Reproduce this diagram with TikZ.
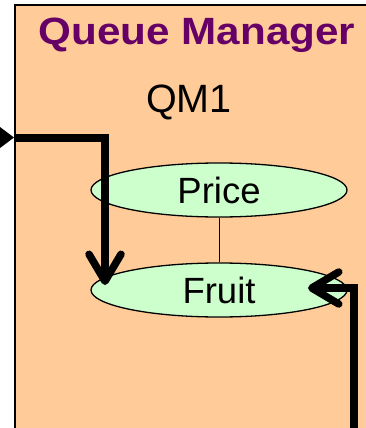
\documentclass[tikz,border=0pt]{standalone}
\usepackage{fontspec}
\setmainfont{Liberation Sans}
\usetikzlibrary{shapes.geometric,arrows.meta}
\definecolor{qmfill}{HTML}{FFCC99}
\definecolor{qgreen}{HTML}{CCFFCC}
\definecolor{qpurple}{HTML}{660066}
\begin{document}
\begin{tikzpicture}[x=1pt,y=-1pt,
  queue/.style={ellipse, draw, line width=1.3pt, fill=qgreen,
    minimum width=256pt, minimum height=54pt, inner sep=0pt,
    font=\fontsize{36.5}{37}\selectfont},
  flow/.style={line width=7.5pt,
    -{Straight Barb[length=27pt,width=32pt,round]}}]
\useasboundingbox (0,0) rectangle (366,428);
\clip (0,0) rectangle (366,428);
\fill[white] (0,0) rectangle (366,428);
% queue manager box, running off the right and bottom
\draw[fill=qmfill, line width=1.6pt] (15,5) rectangle (380,440);
\node[font=\bfseries\fontsize{38}{38}\selectfont, text=qpurple,
  anchor=base, xscale=1.11] (title) at (197,45) {Queue Manager};
\node[font=\fontsize{39.5}{40}\selectfont, anchor=base] (qm) at (189,112) {QM1};
% queues
\node[queue] (price) at (219,190) {Price};
\node[queue] (fruit) at (219,290) {Fruit};
\draw[line width=1pt] (price) -- (fruit);
% incoming channel on the left
\fill (0,127) -- (14,137.5) -- (0,148) -- cycle;
\coordinate (inL) at (14,138);
\coordinate (fruitL) at (105,285);
\draw[flow] (inL) -| (fruitL);
% incoming channel from below
\coordinate (inB) at (354,440);
\coordinate (fruitR) at (308,288);
\draw[flow] (inB) |- (fruitR);
\end{tikzpicture}
\end{document}
